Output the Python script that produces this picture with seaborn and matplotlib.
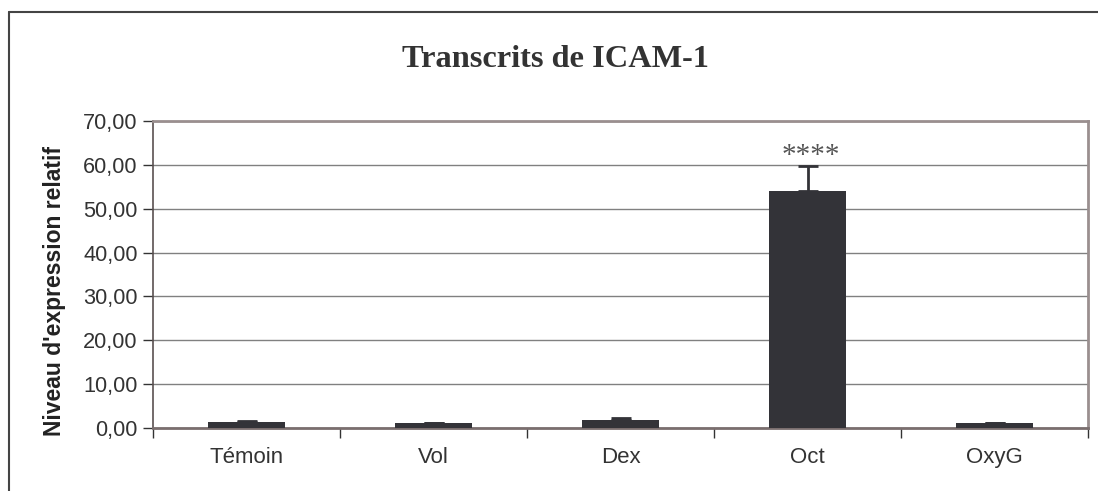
import matplotlib
matplotlib.use("Agg")
import matplotlib.pyplot as plt
from matplotlib.lines import Line2D
from matplotlib.ticker import FixedLocator, FuncFormatter
import seaborn as sns
import numpy as np

categories = ["Témoin", "Vol", "Dex", "Oct", "OxyG"]
values = [1.45, 1.07, 1.90, 54.0, 1.07]
errors = [0.15, 0.10, 0.40, 5.8, 0.12]
significance = ["", "", "", "****", ""]
y_ticks = [0, 10, 20, 30, 40, 50, 60, 70]

sns.set_theme(style="white")
plt.rcParams["font.family"] = ["Liberation Sans", "DejaVu Sans"]

fig = plt.figure(figsize=(10.98, 4.91), dpi=100)
ax = fig.add_axes([153 / 1098, 63 / 491, (1088 - 153) / 1098, (428 - 121) / 491])

bar_color = "#333338"
sns.barplot(x=categories, y=values, color=bar_color, width=0.41,
            errorbar=None, saturation=1, ax=ax, zorder=3)
for p in ax.patches:
    p.set_edgecolor(bar_color)
    p.set_linewidth(0)

# upper-only error bars
xpos = np.arange(len(categories))
ax.errorbar(xpos, values, yerr=[np.zeros(len(errors)), errors], fmt="none",
            ecolor=bar_color, elinewidth=2, capsize=7, capthick=2, zorder=2)

for x, v, e, s in zip(xpos, values, errors, significance):
    if s:
        ax.text(x + 0.02, v + e - 0.7, s, ha="center", va="bottom",
                fontsize=21, color="#555555", family="Liberation Serif")

ax.set_xlim(-0.5, len(categories) - 0.5)
ax.set_ylim(0, 70)
ax.yaxis.set_major_locator(FixedLocator(y_ticks))
ax.yaxis.set_major_formatter(FuncFormatter(lambda v, _: f"{v:.2f}".replace(".", ",")))

# category ticks at boundaries, labels centered
ax.set_xticks(np.arange(-0.5, len(categories)), minor=False)
ax.set_xticklabels([""] * (len(categories) + 1))
ax.set_xticks(xpos, minor=True)
ax.set_xticklabels(categories, minor=True)
ax.tick_params(axis="x", which="major", direction="out", length=7, width=1,
               color="#333333", bottom=True)
ax.tick_params(axis="x", which="minor", length=0, pad=14, labelsize=16,
               labelcolor="#333333")
ax.tick_params(axis="y", direction="out", length=7, width=1, color="#333333",
               left=True, labelsize=15.7, labelcolor="#333333", pad=4)

ax.yaxis.grid(True, color="#808080", linewidth=1, zorder=0)
ax.set_axisbelow(True)
for side in ["top", "right"]:
    ax.spines[side].set_color("#9a8f8f")
    ax.spines[side].set_linewidth(2)
ax.spines["left"].set_color("#5a5050")
ax.spines["left"].set_linewidth(1.2)
ax.spines["bottom"].set_color("#7a6e6e")
ax.spines["bottom"].set_linewidth(2)
ax.set_xlabel("")
ax.set_ylabel("")

fig.text(55 / 1098, 1 - 291 / 491, "Niveau d'expression relatif", rotation=90,
         ha="center", va="center", fontsize=16.5, fontweight="bold", color="#222222")
fig.text(555 / 1098, 1 - 60 / 491, "Transcrits de ICAM-1", ha="center", va="center",
         fontsize=23.3, fontweight="bold", family="Liberation Serif", color="#333333")

# chart frame
fig.add_artist(Line2D([9 / 1098, 9 / 1098], [0, 1 - 12 / 491],
                      transform=fig.transFigure, color="#444444", linewidth=1.5))
fig.add_artist(Line2D([9 / 1098, 1], [1 - 12 / 491, 1 - 12 / 491],
                      transform=fig.transFigure, color="#444444", linewidth=1.5))

fig.savefig("out.png", dpi=100, facecolor="white")
